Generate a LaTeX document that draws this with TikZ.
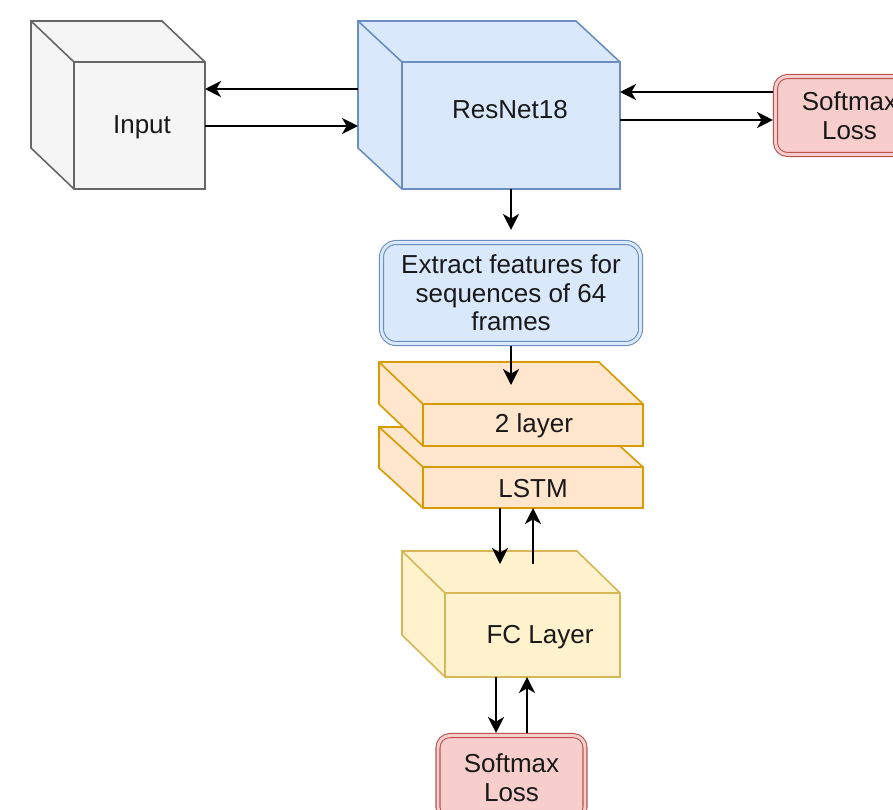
\documentclass[tikz,border=0pt]{standalone}
\usepackage{fontspec}
\setmainfont{Liberation Sans}
\usetikzlibrary{arrows.meta,fit}

\definecolor{grayfill}{HTML}{F5F5F5}
\definecolor{graystroke}{HTML}{666666}
\definecolor{bluefill}{HTML}{DAE8FC}
\definecolor{bluestroke}{HTML}{6C8EBF}
\definecolor{redfill}{HTML}{F8CECC}
\definecolor{redstroke}{HTML}{B85450}
\definecolor{orangefill}{HTML}{FFE6CC}
\definecolor{orangestroke}{HTML}{D79B00}
\definecolor{yellowfill}{HTML}{FFF2CC}
\definecolor{yellowstroke}{HTML}{D6B656}

% 3D box: front face (#3,#4)-(#5,#6), receding by (#7,#8) to the upper left;
% #9 names a node covering the whole outline
\newcommand{\solidbox}[9]{%
  \filldraw[cubeline, fill=#1, draw=#2] (#3-#7,#4-#8) -- (#5-#7,#4-#8) -- (#5,#4) -- (#5,#6) -- (#3,#6) -- (#3-#7,#6-#8) -- cycle;
  \draw[cubeline, draw=#2] (#3-#7,#4-#8) -- (#3,#4) -- (#5,#4) (#3,#4) -- (#3,#6);
  \node[inner sep=0pt, outer sep=0pt, fit={(#3-#7,#4-#8) (#5,#6)}] (#9) {};
}

\begin{document}
\begin{tikzpicture}[x=0.75pt, y=-0.75pt,
  cubeline/.style={line width=1.2pt, line join=miter},
  arr/.style={draw=black, line width=1.4pt, -{Stealth[length=12pt, width=12pt, inset=3.5pt]}},
  txt/.style={font=\fontsize{19.5}{21.5}\selectfont, text=black!90, inner sep=0pt, align=center},
  dblbox/.style={txt, line width=0.8pt, double distance=2.2pt, outer sep=1.9pt},
]
\useasboundingbox (0,0) rectangle (893,810);

% input and backbone
\solidbox{grayfill}{graystroke}{74}{62}{205}{189}{43}{41}{input}
\node[txt] (inputtext) at (142,127) {Input};

\solidbox{bluefill}{bluestroke}{402}{62}{620}{189}{44}{41}{resnet}
\node[txt] (resnettext) at (510,110) {ResNet18};

\node[dblbox, draw=redstroke, double=redfill, fill=redfill, rounded corners=9pt,
      minimum width=111pt, minimum height=58.5pt] (softA) at (849.5,115.5) {Softmax\\Loss};

% feature extraction
\node[dblbox, draw=bluestroke, double=bluefill, fill=bluefill, rounded corners=11pt,
      minimum width=194.25pt, minimum height=75.75pt] (extract) at (511,293) {Extract features for\\sequences of 64\\frames};

% two stacked LSTM slabs
\solidbox{orangefill}{orangestroke}{423}{467}{643}{508}{44}{40}{lstmB}
\solidbox{orangefill}{orangestroke}{423}{404}{643}{446}{44}{42}{lstmA}
\node[txt] (lstmAtext) at (534,426) {2 layer};
\node[txt] (lstmBtext) at (533,489) {LSTM};

% classifier
\solidbox{yellowfill}{yellowstroke}{445}{593}{620}{677}{43}{42}{fc}
\node[txt] (fctext) at (540,637) {FC Layer};

\node[dblbox, draw=redstroke, double=redfill, fill=redfill, rounded corners=9pt,
      minimum width=110.25pt, minimum height=63pt] (softB) at (511.5,777.5) {Softmax\\Loss};

% points on the top faces where arrows end
\coordinate (lstmface) at (511,385);
\coordinate (fcface) at (0,564);

% connectors
\draw[arr] (resnet.west |- 0,89) -- (input.east |- 0,89);
\draw[arr] (input.east |- 0,126) -- (resnet.west |- 0,126);
\draw[arr] (softA.west |- 0,92) -- (resnet.east |- 0,92);
\draw[arr] (resnet.east |- 0,120) -- (softA.west |- 0,120);
\draw[arr, shorten >=7.5pt] (511,0 |- resnet.south) -- (511,0 |- extract.north);
\draw[arr] (extract.south) -- (extract.south |- lstmface);
\draw[arr] (500,0 |- lstmB.south) -- (500,0 |- fcface);
\draw[arr] (533,0 |- fcface) -- (533,0 |- lstmB.south);
\draw[arr] (496,0 |- fc.south) -- (496,0 |- softB.north);
\draw[arr] (527,0 |- softB.north) -- (527,0 |- fc.south);
\end{tikzpicture}
\end{document}
